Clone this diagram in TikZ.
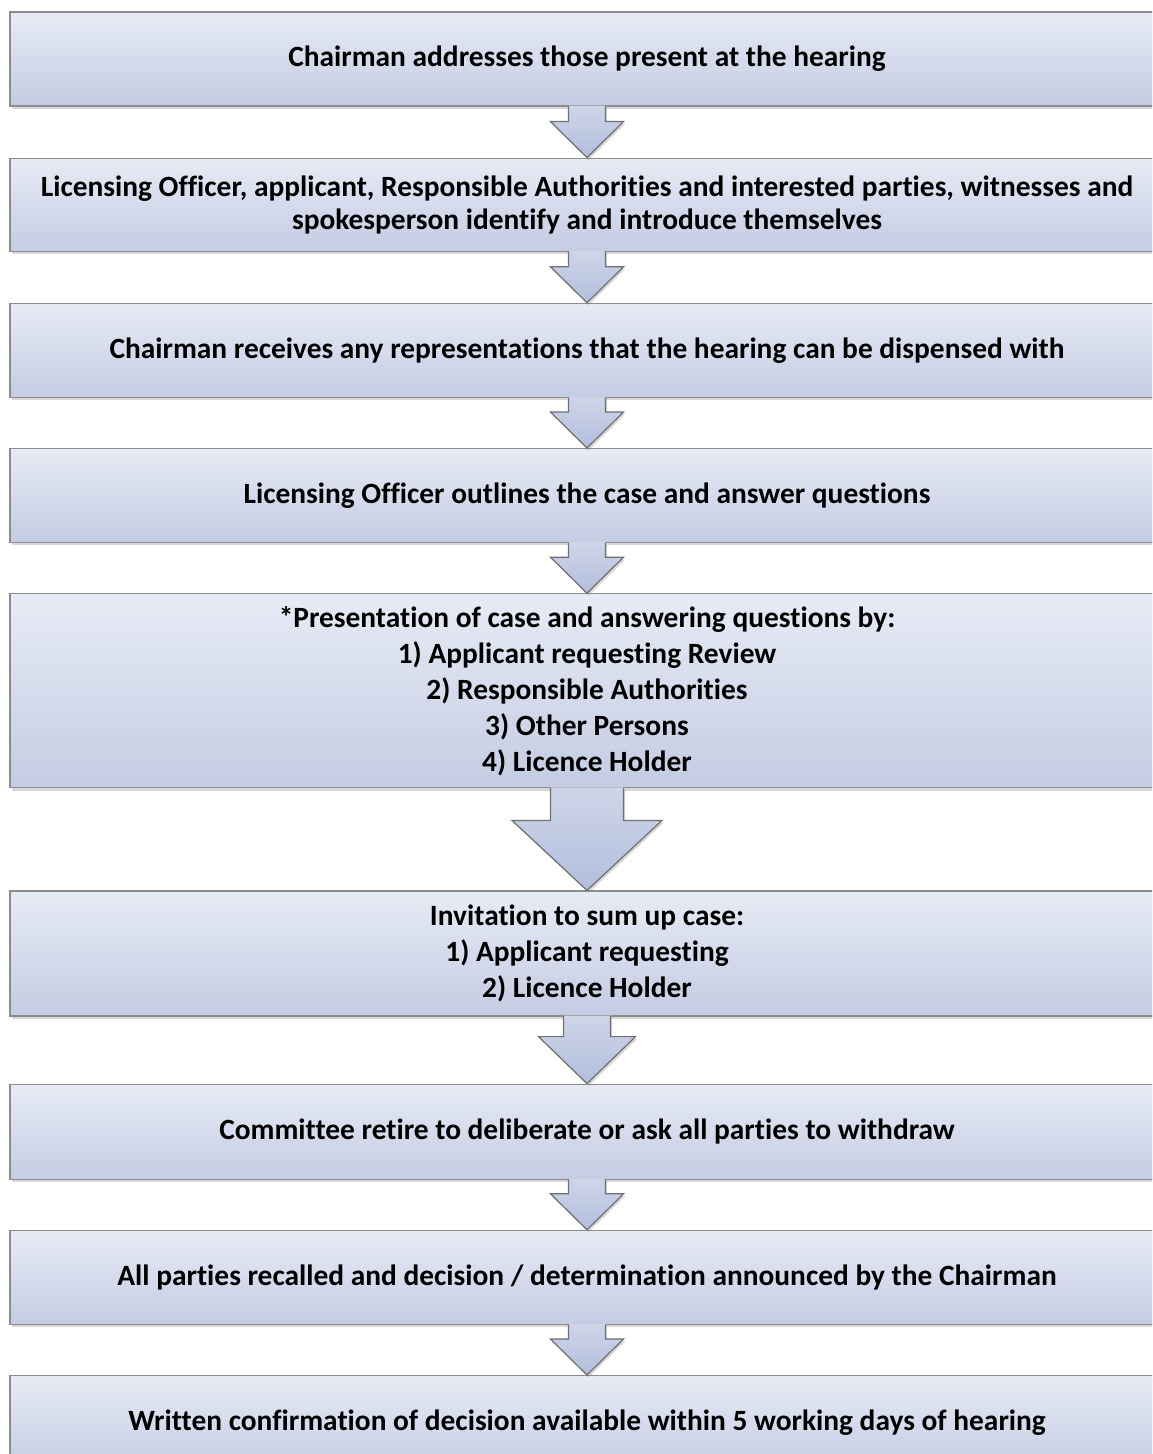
\documentclass[tikz,border=0pt]{standalone}
\usepackage{fontspec}
\setmainfont{Carlito}[Ligatures=NoCommon]
\usepackage{xcolor}
\usetikzlibrary{positioning,calc,shadows}

\definecolor{paletop}{RGB}{231,235,245}
\definecolor{palebottom}{RGB}{196,204,227}
\definecolor{arrowbottom}{RGB}{178,190,221}
\definecolor{edgegray}{RGB}{140,140,140}

\tikzset{
  stepbox/.style={rectangle,align=center,text centered,minimum width=577pt,
    top color=paletop,bottom color=palebottom,draw=edgegray,line width=0.6pt,
    font=\fontsize{14.7}{16.5}\selectfont\bfseries,inner sep=2pt,
    drop shadow={shadow xshift=0.8pt,shadow yshift=-1.4pt,opacity=0.3}},
  tallbox/.style={stepbox,font=\fontsize{14.7}{18}\selectfont\bfseries},
  arrowfill/.style={top color=palebottom!70!paletop,bottom color=arrowbottom,
    drop shadow={shadow xshift=0.8pt,shadow yshift=-1.2pt,opacity=0.3}},
  arrowedge/.style={draw=edgegray!80!black,line width=0.6pt,line join=miter}
}

% block arrow from the bottom of #1 to the top of #2
% #3 half shaft, #4 half head, #5 head height (all in px)
\newcommand{\blockarrow}[5]{
  \shade[arrowfill] ($(#1.south)+(-#3,-1)$) -- ($(#2.north)+(-#3,-#5)$)
    -- ($(#2.north)+(-#4,-#5)$) -- (#2.north) -- ($(#2.north)+(#4,-#5)$)
    -- ($(#2.north)+(#3,-#5)$) -- ($(#1.south)+(#3,-1)$) -- cycle;
  \draw[arrowedge] ($(#1.south)+(-#3,-0.4)$) -- ($(#2.north)+(-#3,-#5)$)
    -- ($(#2.north)+(-#4,-#5)$) -- (#2.north) -- ($(#2.north)+(#4,-#5)$)
    -- ($(#2.north)+(#3,-#5)$) -- ($(#1.south)+(#3,-0.4)$);
}

\begin{document}
\begin{tikzpicture}[x=0.5pt,y=-0.5pt]
\clip (0,0) rectangle (1152,1454);
\fill[white] (0,0) rectangle (1152,1454);

% steps of the hearing
\node (open)[stepbox,minimum height=47pt] at (587,59)
  {Chairman addresses those present at the hearing};
\node (intro)[stepbox,minimum height=46.5pt,below=25.5pt of open]
  {Licensing Officer, applicant, Responsible Authorities and interested parties, witnesses and\\
   spokesperson identify and introduce themselves};
\node (dispense)[stepbox,minimum height=47pt,below=25.5pt of intro]
  {Chairman receives any representations that the hearing can be dispensed with};
\node (officer)[stepbox,minimum height=47pt,below=25pt of dispense]
  {Licensing Officer outlines the case and answer questions};
\node (present)[tallbox,minimum height=97pt,below=25pt of officer]
  {*Presentation of case and answering questions by:\\
   1) Applicant requesting Review\\
   2) Responsible Authorities\\
   3) Other Persons\\
   4) Licence Holder};
\node (sumup)[tallbox,minimum height=62.5pt,below=51pt of present]
  {Invitation to sum up case:\\
   1) Applicant requesting\\
   2) Licence Holder};
\node (retire)[stepbox,minimum height=47.5pt,below=33.5pt of sumup]
  {Committee retire to deliberate or ask all parties to withdraw};
\node (recall)[stepbox,minimum height=47pt,below=25pt of retire]
  {All parties recalled and decision / determination announced by the Chairman};
\node (written)[stepbox,minimum height=47pt,below=25pt of recall]
  {Written confirmation of decision available within 5 working days of hearing};

% arrows between the steps
\blockarrow{open}{intro}{18.5}{36.5}{36}
\blockarrow{intro}{dispense}{18.5}{36.5}{36}
\blockarrow{dispense}{officer}{18.5}{36.5}{36}
\blockarrow{officer}{present}{18.5}{36.5}{36}
\blockarrow{present}{sumup}{36.5}{75}{70}
\blockarrow{sumup}{retire}{23.5}{48.5}{47}
\blockarrow{retire}{recall}{18.5}{36.5}{36}
\blockarrow{recall}{written}{18.5}{36.5}{36}
\end{tikzpicture}
\end{document}
